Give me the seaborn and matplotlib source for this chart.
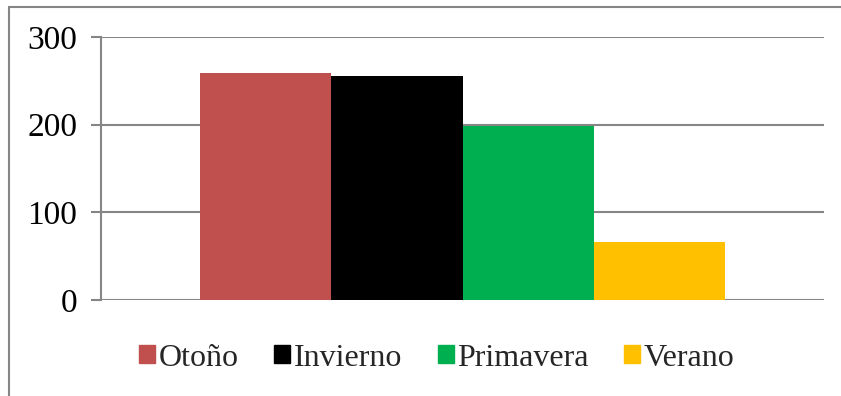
import pandas as pd
import matplotlib.pyplot as plt
import seaborn as sns
from matplotlib.lines import Line2D

# values
estaciones = ['Otoño', 'Invierno', 'Primavera', 'Verano']
valores = [259, 256, 199, 66]
colores = ['#C0504D', '#000000', '#00B050', '#FFC000']

df = pd.DataFrame({'grupo': ['g'] * len(estaciones),
                   'estacion': estaciones,
                   'valor': valores})

sns.set_style('white')
plt.rcParams['font.family'] = ['Liberation Serif', 'DejaVu Serif']

fig = plt.figure(figsize=(8.41, 3.96), dpi=100)
ax = fig.add_axes([101 / 841, 1 - 300 / 396, (824 - 101) / 841, (300 - 37) / 396])

sns.barplot(data=df, x='grupo', y='valor', hue='estacion', palette=colores,
            width=0.726, saturation=1, linewidth=0, ax=ax, legend=False)

ax.set_xlim(-0.5, 0.5)
ax.set_ylim(0, 300)
ax.set_yticks([0, 100, 200, 300])
ax.set_xticks([])
ax.set_xlabel('')
ax.set_ylabel('')
ax.yaxis.grid(True, color='#868686', linewidth=1.5)
ax.set_axisbelow(True)
for s in ['top', 'right', 'bottom']:
    ax.spines[s].set_visible(False)
ax.spines['left'].set_color('#868686')
ax.spines['left'].set_linewidth(1.5)
ax.tick_params(axis='y', which='both', left=True, length=7, width=1.5,
               color='#868686', labelsize=24, pad=10, labelcolor='black')

# legend under the plot
handles = [plt.Rectangle((0, 0), 1, 1, color=c) for c in colores]
fig.legend(handles, estaciones, loc='center', bbox_to_anchor=(437 / 841, 1 - 358 / 396),
           ncol=4, frameon=False, fontsize=23, handlelength=0.5, handleheight=0.5,
           handletextpad=0.12, columnspacing=1.1)

# outer frame (only top and left visible in the original)
fig.add_artist(Line2D([8.5 / 841, 1], [1 - 6.5 / 396, 1 - 6.5 / 396],
                      color='#868686', linewidth=1.5, transform=fig.transFigure))
fig.add_artist(Line2D([8.5 / 841, 8.5 / 841], [0, 1 - 6.5 / 396],
                      color='#868686', linewidth=1.5, transform=fig.transFigure))

plt.savefig('out.png', dpi=100)
